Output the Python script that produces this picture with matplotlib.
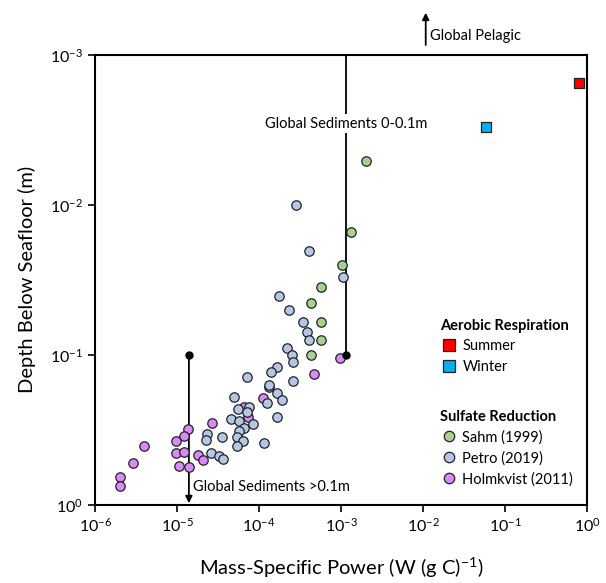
import matplotlib.pyplot as plt
from matplotlib.lines import Line2D
from matplotlib.patches import FancyArrowPatch

plt.rcParams['font.family'] = ['Lato', 'DejaVu Sans']
plt.rcParams['mathtext.fontset'] = 'custom'
plt.rcParams['mathtext.rm'] = 'Lato'
plt.rcParams['mathtext.it'] = 'Lato:italic'

# aerobic respiration (squares)
summer_power = [0.79]
summer_depth = [0.00153]
winter_power = [0.0586]
winter_depth = [0.00305]

# sulfate reduction
sahm_power = [1.30e-3, 1.01e-3, 5.7e-4, 4.23e-4, 5.7e-4, 5.7e-4, 4.23e-4, 2.0e-3]
sahm_depth = [0.0151, 0.0252, 0.0352, 0.0452, 0.0603, 0.080, 0.100, 0.00509]

petro_power = [2.83e-4, 4.0e-4, 1.04e-3, 1.74e-4, 2.32e-4, 3.47e-4, 3.82e-4, 4.0e-4,
               2.18e-4, 2.51e-4, 2.58e-4, 1.67e-4, 1.40e-4, 7.2e-5, 2.62e-4, 1.31e-4,
               1.64e-4, 1.89e-4, 1.24e-4, 4.9e-5, 7.6e-5, 5.5e-5, 7.1e-5, 4.56e-5,
               5.75e-5, 8.5e-5, 1.64e-4, 6.6e-5, 5.75e-5, 5.35e-5, 6.4e-5, 5.4e-5,
               1.16e-4, 2.3e-5, 2.26e-5, 3.5e-5, 2.58e-5, 3.25e-5, 3.6e-5]
petro_depth = [0.0101, 0.0202, 0.0302, 0.0403, 0.050, 0.060, 0.0703, 0.080,
               0.0897, 0.100, 0.111, 0.120, 0.130, 0.140, 0.150, 0.160,
               0.180, 0.200, 0.208, 0.190, 0.221, 0.230, 0.239, 0.269,
               0.278, 0.290, 0.260, 0.308, 0.320, 0.354, 0.378, 0.403,
               0.388, 0.337, 0.369, 0.351, 0.453, 0.471, 0.495]

holm_power = [9.7e-4, 4.65e-4, 1.32e-4, 1.10e-4, 6.6e-5, 7.35e-5, 2.67e-5, 1.34e-5,
              1.22e-5, 9.7e-6, 9.7e-6, 1.22e-5, 1.82e-5, 2.06e-5, 1.05e-5, 1.41e-5,
              3.96e-6, 2.93e-6, 2.02e-6, 2.02e-6]
holm_depth = [0.105, 0.135, 0.164, 0.195, 0.224, 0.258, 0.285, 0.313,
              0.347, 0.378, 0.448, 0.441, 0.467, 0.500, 0.547, 0.556,
              0.408, 0.527, 0.647, 0.746]

# global estimates
sed_top_power = 1.15e-3
sed_deep_power = 1.39e-5

fig = plt.figure(figsize=(6.06, 5.83), dpi=100)
ax = fig.add_axes([0.157, 0.134, 0.812, 0.772])

circ = dict(s=46, edgecolors='#222222', linewidths=0.9, zorder=3)
ax.scatter(holm_power, holm_depth, c='#d98af6', **circ)
ax.scatter(petro_power, petro_depth, c='#b4c7e7', **circ)
ax.scatter(sahm_power, sahm_depth, c='#a9d18e', **circ)
sq = dict(s=62, marker='s', edgecolors='#222222', linewidths=0.9, zorder=3)
ax.scatter(summer_power, summer_depth, c='#ff0000', **sq)
ax.scatter(winter_power, winter_depth, c='#00b0f0', **sq)

# global sediments 0-0.1m
ax.plot([sed_top_power, sed_top_power], [1e-3, 0.1], color='black', lw=1.3, zorder=2)
ax.plot([sed_top_power], [0.1], 'ko', ms=5, zorder=4)
ax.text(sed_top_power, 0.00288, 'Global Sediments 0-0.1m', ha='center', va='center',
        fontsize=10.5, zorder=5,
        bbox=dict(facecolor='white', edgecolor='none', pad=2))

# global sediments >0.1m
ax.annotate('', xy=(sed_deep_power, 0.975), xytext=(sed_deep_power, 0.1),
            arrowprops=dict(arrowstyle='-|>', color='black', lw=1.3,
                            mutation_scale=10, shrinkA=0, shrinkB=0), zorder=2)
ax.plot([sed_deep_power], [0.1], 'ko', ms=5, zorder=4)
ax.text(1.57e-5, 0.76, 'Global Sediments >0.1m', ha='left', va='center', fontsize=10.5)

# global pelagic (above the axes)
fig.add_artist(FancyArrowPatch(
    (0.7025, 0.918), (0.7025, 0.983), transform=fig.transFigure,
    arrowstyle='-|>', color='black', lw=1.3, mutation_scale=10))
fig.text(0.71, 0.938, 'Global Pelagic', ha='left', va='center', fontsize=10.5)

ax.set_xscale('log')
ax.set_yscale('log')
ax.set_xlim(1e-6, 1)
ax.set_ylim(1, 1e-3)
ax.minorticks_off()
ax.tick_params(direction='out', length=5, width=1.2, labelsize=11.5)
for sp in ax.spines.values():
    sp.set_linewidth(1.5)

ax.set_xlabel('Mass-Specific Power (W (g C)$^{-1}$)', fontsize=14.5, labelpad=15)
ax.set_ylabel('Depth Below Seafloor (m)', fontsize=14.5, labelpad=10)

def handle(marker, color):
    return Line2D([], [], ls='none', marker=marker, markersize=8 if marker == 's' else 7.5,
                  markerfacecolor=color, markeredgecolor='#222222', markeredgewidth=0.9)

leg1 = ax.legend([handle('s', '#ff0000'), handle('s', '#00b0f0')], ['Summer', 'Winter'],
                 title='Aerobic Respiration', loc='upper left',
                 bbox_to_anchor=(0.675, 0.443), frameon=False, alignment='left',
                 fontsize=10.5, title_fontproperties={'weight': 'bold', 'size': 10.5},
                 handletextpad=0.3, labelspacing=0.45, handlelength=1.2)
ax.add_artist(leg1)
ax.legend([handle('o', '#a9d18e'), handle('o', '#b4c7e7'), handle('o', '#d98af6')],
          ['Sahm (1999)', 'Petro (2019)', 'Holmkvist (2011)'],
          title='Sulfate Reduction', loc='upper left',
          bbox_to_anchor=(0.675, 0.241), frameon=False, alignment='left',
          fontsize=10.5, title_fontproperties={'weight': 'bold', 'size': 10.5},
          handletextpad=0.3, labelspacing=0.45, handlelength=1.2)

fig.savefig('out.png', dpi=100)
